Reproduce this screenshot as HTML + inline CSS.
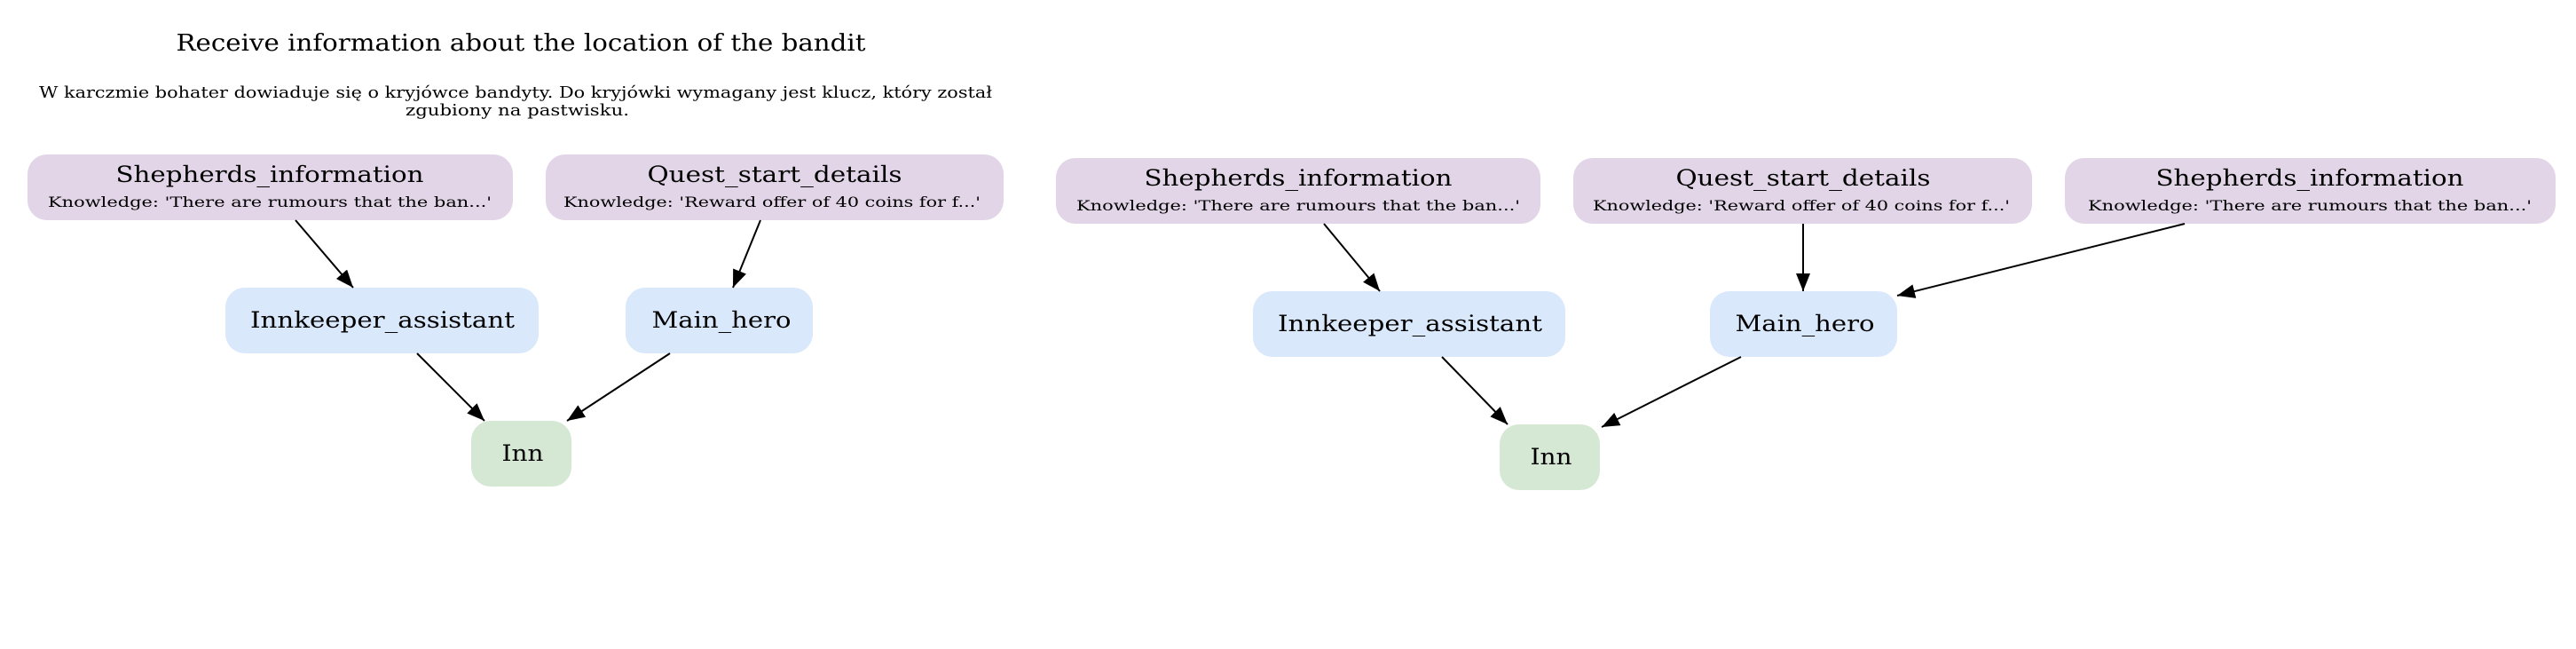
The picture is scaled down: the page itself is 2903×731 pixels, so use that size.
<!DOCTYPE html>
<html><head><meta charset="utf-8"><style>
html,body{margin:0;padding:0;background:#fff;}
svg{display:block;}
text{font-family:"DejaVu Serif","Liberation Serif",serif;fill:#000;}
.n{font-size:25px;text-anchor:middle;}
.k{font-size:16px;text-anchor:middle;}
.p{fill:#e1d5e7;}
.b{fill:#dae8fc;}
.g{fill:#d5e8d4;}
line{stroke:#000;stroke-width:2;}
</style></head><body>
<svg width="2903" height="731" viewBox="0 0 2903 731" xmlns="http://www.w3.org/2000/svg">
<defs>
<marker id="m" viewBox="0 0 10 8" refX="10" refY="4" markerWidth="20" markerHeight="16" orient="auto" markerUnits="userSpaceOnUse"><path d="M0,0 L10,4 L0,8 z" fill="#000"/></marker></defs>
<text x="587" y="57" style="font-size:26px;text-anchor:middle" textLength="777" lengthAdjust="spacingAndGlyphs">Receive information about the location of the bandit</text>
<text x="581" y="110" style="font-size:18px;text-anchor:middle" textLength="1074" lengthAdjust="spacingAndGlyphs">W karczmie bohater dowiaduje się o kryjówce bandyty. Do kryjówki wymagany jest klucz, który został</text>
<text x="583" y="130" style="font-size:18px;text-anchor:middle" textLength="252" lengthAdjust="spacingAndGlyphs">zgubiony na pastwisku.</text>

<!-- left graph -->
<rect class="p" x="31" y="174" width="547" height="74" rx="22"/>
<text class="n" x="304" y="205" textLength="347" lengthAdjust="spacingAndGlyphs">Shepherds_information</text>
<text class="k" x="304" y="233" textLength="500" lengthAdjust="spacingAndGlyphs">Knowledge: 'There are rumours that the ban...'</text>
<rect class="p" x="615" y="174" width="516" height="74" rx="22"/>
<text class="n" x="873" y="205" textLength="287" lengthAdjust="spacingAndGlyphs">Quest_start_details</text>
<text class="k" x="870" y="233" textLength="470" lengthAdjust="spacingAndGlyphs">Knowledge: 'Reward offer of 40 coins for f...'</text>
<rect class="b" x="254" y="324" width="353" height="74" rx="22"/>
<text class="n" x="431" y="369" textLength="298" lengthAdjust="spacingAndGlyphs">Innkeeper_assistant</text>
<rect class="b" x="705" y="324" width="211" height="74" rx="22"/>
<text class="n" x="813" y="369" textLength="157" lengthAdjust="spacingAndGlyphs">Main_hero</text>
<rect class="g" x="531" y="474" width="113" height="74" rx="22"/>
<text class="n" x="589" y="519" textLength="47" lengthAdjust="spacingAndGlyphs">Inn</text>
<line x1="333" y1="248" x2="398" y2="324" marker-end="url(#m)"/>
<line x1="857" y1="248" x2="826" y2="324" marker-end="url(#m)"/>
<line x1="470" y1="398" x2="546" y2="474" marker-end="url(#m)"/>
<line x1="755" y1="398" x2="639" y2="474" marker-end="url(#m)"/>

<!-- right graph -->
<rect class="p" x="1190" y="178" width="546" height="74" rx="22"/>
<text class="n" x="1463" y="209" textLength="347" lengthAdjust="spacingAndGlyphs">Shepherds_information</text>
<text class="k" x="1463" y="237" textLength="500" lengthAdjust="spacingAndGlyphs">Knowledge: 'There are rumours that the ban...'</text>
<rect class="p" x="1773" y="178" width="517" height="74" rx="22"/>
<text class="n" x="2032" y="209" textLength="287" lengthAdjust="spacingAndGlyphs">Quest_start_details</text>
<text class="k" x="2030" y="237" textLength="470" lengthAdjust="spacingAndGlyphs">Knowledge: 'Reward offer of 40 coins for f...'</text>
<rect class="p" x="2327" y="178" width="553" height="74" rx="22"/>
<text class="n" x="2603" y="209" textLength="347" lengthAdjust="spacingAndGlyphs">Shepherds_information</text>
<text class="k" x="2603" y="237" textLength="500" lengthAdjust="spacingAndGlyphs">Knowledge: 'There are rumours that the ban...'</text>
<rect class="b" x="1412" y="328" width="352" height="74" rx="22"/>
<text class="n" x="1589" y="373" textLength="298" lengthAdjust="spacingAndGlyphs">Innkeeper_assistant</text>
<rect class="b" x="1927" y="328" width="211" height="74" rx="22"/>
<text class="n" x="2034" y="373" textLength="157" lengthAdjust="spacingAndGlyphs">Main_hero</text>
<rect class="g" x="1690" y="478" width="113" height="74" rx="22"/>
<text class="n" x="1748" y="523" textLength="47" lengthAdjust="spacingAndGlyphs">Inn</text>
<line x1="1492" y1="252" x2="1555" y2="328" marker-end="url(#m)"/>
<line x1="2032" y1="252" x2="2032" y2="328" marker-end="url(#m)"/>
<line x1="2462" y1="252" x2="2138" y2="333" marker-end="url(#m)"/>
<line x1="1625" y1="402" x2="1699" y2="478" marker-end="url(#m)"/>
<line x1="1962" y1="402" x2="1805" y2="481" marker-end="url(#m)"/>
</svg>
</body></html>
